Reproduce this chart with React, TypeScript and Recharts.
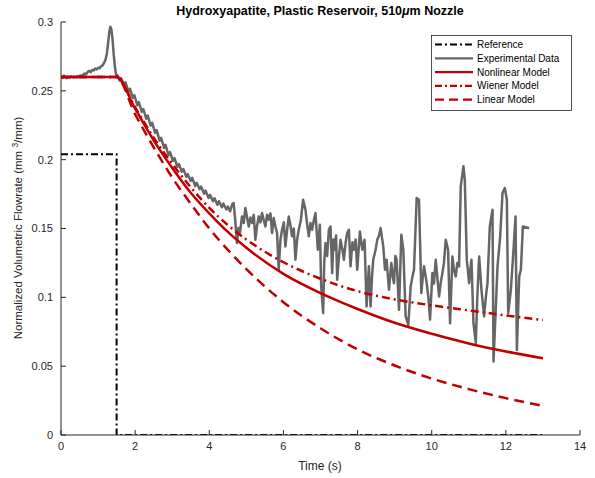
import React from "react";
import { LineChart, Line, XAxis, YAxis } from "recharts";

// axis ticks
const timeTicks = [0, 2, 4, 6, 8, 10, 12, 14];
const flowTicks = [0, 0.05, 0.1, 0.15, 0.2, 0.25, 0.3];

// [time (s), normalized flowrate]
const referenceFlow: [number, number][] = [
  [0, 0.204], [1.5, 0.204], [1.5, 0], [13, 0],
];

const nonlinearModel: [number, number][] = [
  [0, 0.26], [1.5, 0.26], [2, 0.237], [2.5, 0.214], [3, 0.194], [3.5, 0.176],
  [4, 0.161], [4.5, 0.1475], [5, 0.136], [6, 0.117], [7, 0.103], [8, 0.0915],
  [9, 0.0815], [10, 0.0735], [11, 0.0665], [12, 0.0607], [13, 0.0558],
];

const wienerModel: [number, number][] = [
  [0, 0.26], [1.5, 0.26], [2, 0.238], [2.5, 0.216], [3, 0.197], [3.5, 0.18],
  [4, 0.165], [4.5, 0.1525], [5, 0.142], [6, 0.1255], [7, 0.1135], [8, 0.1045],
  [9, 0.0985], [10, 0.0942], [11, 0.0905], [12, 0.0869], [13, 0.0835],
];

const linearModel: [number, number][] = [
  [0, 0.26], [1.5, 0.26], [2, 0.233], [2.5, 0.209], [3, 0.187], [3.5, 0.168],
  [4, 0.15], [4.5, 0.1345], [5, 0.1205], [6, 0.0965], [7, 0.0775], [8, 0.0622],
  [9, 0.0505], [10, 0.041], [11, 0.0333], [12, 0.0268], [13, 0.0212],
];

const experimentalData: [number, number][] = [
  [0, 0.2605], [0.04, 0.2595], [0.08, 0.261], [0.12, 0.26], [0.16, 0.2592], [0.2, 0.2602],
  [0.24, 0.2596], [0.28, 0.2606], [0.32, 0.2598], [0.36, 0.2604], [0.4, 0.2597], [0.44, 0.2607],
  [0.48, 0.2602], [0.52, 0.2612], [0.56, 0.2606], [0.6, 0.2618], [0.64, 0.2625], [0.68, 0.2622],
  [0.72, 0.2638], [0.76, 0.2645], [0.8, 0.2636], [0.84, 0.2652], [0.88, 0.2648], [0.92, 0.2662],
  [0.96, 0.2655], [1.0, 0.2668], [1.04, 0.2664], [1.08, 0.2678], [1.12, 0.2685], [1.16, 0.2702],
  [1.2, 0.2725], [1.24, 0.2775], [1.27, 0.2845], [1.3, 0.292], [1.33, 0.2965], [1.36, 0.2945],
  [1.39, 0.2875], [1.42, 0.277], [1.45, 0.2685], [1.48, 0.2625], [1.5, 0.2605],
  [1.52, 0.2615], [1.58, 0.2575], [1.62, 0.2592], [1.7, 0.2545], [1.74, 0.2562], [1.82, 0.2495],
  [1.86, 0.2515], [1.94, 0.2448], [1.98, 0.2468], [2.06, 0.2395], [2.1, 0.2418], [2.18, 0.2348],
  [2.22, 0.2368], [2.3, 0.2298], [2.34, 0.232], [2.42, 0.2248], [2.46, 0.2268], [2.54, 0.2195],
  [2.58, 0.2215], [2.66, 0.2138], [2.7, 0.2158], [2.78, 0.2085], [2.82, 0.2108], [2.9, 0.2032],
  [2.94, 0.2055], [3.02, 0.1992], [3.06, 0.2012], [3.14, 0.1948], [3.18, 0.1968], [3.26, 0.1912],
  [3.3, 0.1932], [3.38, 0.1875], [3.42, 0.1895], [3.5, 0.1845], [3.54, 0.1868], [3.62, 0.1808],
  [3.66, 0.1832], [3.74, 0.1785], [3.78, 0.1805], [3.86, 0.1752], [3.9, 0.1775], [3.98, 0.1722],
  [4.02, 0.1745], [4.1, 0.1698], [4.14, 0.172], [4.22, 0.1672], [4.26, 0.1698], [4.34, 0.1655],
  [4.38, 0.1682], [4.46, 0.1638], [4.5, 0.166], [4.56, 0.1625], [4.62, 0.1678], [4.657, 0.1685],
  [4.7, 0.156], [4.747, 0.1394], [4.79, 0.1505], [4.83, 0.147], [4.883, 0.1588], [4.93, 0.154],
  [4.973, 0.1649], [5.02, 0.158], [5.063, 0.1515], [5.11, 0.158], [5.153, 0.154], [5.2, 0.16],
  [5.243, 0.1418], [5.29, 0.152], [5.333, 0.1588], [5.38, 0.1545], [5.423, 0.1612], [5.47, 0.156],
  [5.513, 0.1515], [5.56, 0.16], [5.603, 0.1564], [5.65, 0.161], [5.693, 0.1467], [5.738, 0.1576],
  [5.78, 0.152], [5.828, 0.1467], [5.873, 0.12], [5.92, 0.142], [5.963, 0.1491], [6.01, 0.1545],
  [6.053, 0.137], [6.1, 0.149], [6.144, 0.1588], [6.19, 0.152], [6.234, 0.1443], [6.28, 0.15],
  [6.324, 0.1273], [6.37, 0.142], [6.414, 0.1491], [6.47, 0.156], [6.531, 0.1709], [6.594, 0.1637],
  [6.64, 0.153], [6.684, 0.1443], [6.73, 0.154], [6.774, 0.1491], [6.82, 0.156], [6.864, 0.1612],
  [6.928, 0.1346], [6.982, 0.1528], [7.018, 0.1079], [7.072, 0.0885], [7.1, 0.125], [7.135, 0.1394],
  [7.18, 0.13], [7.225, 0.1491], [7.27, 0.1515], [7.315, 0.1176], [7.35, 0.142], [7.378, 0.1346],
  [7.42, 0.145], [7.45, 0.1128], [7.5, 0.13], [7.54, 0.1418], [7.59, 0.135], [7.63, 0.1273],
  [7.68, 0.14], [7.72, 0.1467], [7.765, 0.1491], [7.81, 0.1225], [7.86, 0.14], [7.9, 0.1346],
  [7.95, 0.142], [7.99, 0.12], [8.03, 0.135], [8.063, 0.1479], [8.126, 0.1346], [8.189, 0.1418],
  [8.243, 0.0934], [8.306, 0.1225], [8.351, 0.0934], [8.39, 0.115], [8.423, 0.1273], [8.486, 0.1346],
  [8.531, 0.1418], [8.58, 0.145], [8.621, 0.1503], [8.693, 0.137], [8.74, 0.12], [8.783, 0.1273],
  [8.847, 0.1055], [8.91, 0.1249], [8.95, 0.115], [8.982, 0.1103], [9.02, 0.13], [9.054, 0.1273],
  [9.117, 0.0909], [9.18, 0.1455], [9.234, 0.1346], [9.297, 0.0861], [9.369, 0.08], [9.432, 0.1079],
  [9.48, 0.115], [9.522, 0.12], [9.594, 0.1721], [9.657, 0.1709], [9.72, 0.1031], [9.76, 0.115],
  [9.793, 0.1225], [9.865, 0.1103], [9.91, 0.1], [9.955, 0.0837], [10.018, 0.1176], [10.06, 0.11],
  [10.108, 0.1273], [10.15, 0.115], [10.198, 0.1006], [10.24, 0.11], [10.288, 0.1176], [10.33, 0.125],
  [10.378, 0.1418], [10.441, 0.1346], [10.495, 0.0812], [10.558, 0.1297], [10.6, 0.12], [10.648, 0.1152],
  [10.69, 0.125], [10.738, 0.1225], [10.783, 0.1806], [10.856, 0.1952], [10.892, 0.1855], [10.946, 0.1273],
  [11.009, 0.1103], [11.04, 0.12], [11.072, 0.1273], [11.126, 0.0812], [11.189, 0.0667], [11.23, 0.1],
  [11.279, 0.1297], [11.342, 0.1055], [11.38, 0.095], [11.414, 0.0861], [11.46, 0.1], [11.504, 0.1103],
  [11.567, 0.1515], [11.64, 0.1637], [11.667, 0.0534], [11.73, 0.0934], [11.775, 0.1225], [11.847, 0.1443],
  [11.91, 0.1758], [11.973, 0.1794], [12.027, 0.1709], [12.063, 0.0885], [12.135, 0.1055], [12.207, 0.1346],
  [12.261, 0.1588], [12.297, 0.0618], [12.36, 0.1152], [12.405, 0.12], [12.459, 0.1515], [12.63, 0.1503],
];

const legendItems = [
  { label: "Reference", color: "#000000", dash: "7 3 2 3" },
  { label: "Experimental Data", color: "#666666", dash: undefined },
  { label: "Nonlinear Model", color: "#c00000", dash: undefined },
  { label: "Wiener Model", color: "#c00000", dash: "7 3 2 3" },
  { label: "Linear Model", color: "#c00000", dash: "9 5" },
];

const toPoints = (pairs: [number, number][]) => pairs.map(([t, v]) => ({ t, v }));

const AXIS = "#262626";
const FONT = "'Liberation Sans', Arial, Helvetica, sans-serif";

export default function App() {
  return (
    <div style={{ position: "absolute", left: 0, top: 0, width: 595, height: 478, background: "#fff", fontFamily: FONT }}>
      <LineChart width={595} height={478} margin={{ top: 22, right: 15, left: 0, bottom: 0 }}>
        <XAxis
          xAxisId="bottom"
          type="number"
          dataKey="t"
          domain={[0, 14]}
          ticks={timeTicks}
          allowDataOverflow
          height={43}
          tickSize={-5}
          tickMargin={12}
          stroke={AXIS}
          tick={{ fontSize: 11, fill: AXIS, fontFamily: FONT }}
        />
        <XAxis
          xAxisId="top"
          orientation="top"
          type="number"
          dataKey="t"
          domain={[0, 14]}
          ticks={timeTicks}
          allowDataOverflow
          height={0}
          tickSize={-5}
          tick={false}
          stroke={AXIS}
        />
        <YAxis
          yAxisId="left"
          type="number"
          domain={[0, 0.3]}
          ticks={flowTicks}
          allowDataOverflow
          width={61}
          tickSize={-5}
          tickMargin={13}
          stroke={AXIS}
          tick={{ fontSize: 11, fill: AXIS, fontFamily: FONT }}
        />
        <YAxis
          yAxisId="right"
          orientation="right"
          type="number"
          domain={[0, 0.3]}
          ticks={flowTicks}
          allowDataOverflow
          width={0}
          tickSize={-5}
          tick={false}
          stroke={AXIS}
        />
        <Line
          data={toPoints(referenceFlow)}
          xAxisId="bottom"
          yAxisId="left"
          dataKey="v"
          type="linear"
          stroke="#000000"
          strokeWidth={2}
          strokeDasharray="7 3 2 3"
          dot={false}
          activeDot={false}
          isAnimationActive={false}
        />
        <Line
          data={toPoints(experimentalData)}
          xAxisId="bottom"
          yAxisId="left"
          dataKey="v"
          type="linear"
          stroke="#666666"
          strokeWidth={2.5}
          strokeLinejoin="round"
          dot={false}
          activeDot={false}
          isAnimationActive={false}
        />
        <Line
          data={toPoints(nonlinearModel)}
          xAxisId="bottom"
          yAxisId="left"
          dataKey="v"
          type="monotone"
          stroke="#c00000"
          strokeWidth={2.5}
          dot={false}
          activeDot={false}
          isAnimationActive={false}
        />
        <Line
          data={toPoints(wienerModel)}
          xAxisId="bottom"
          yAxisId="left"
          dataKey="v"
          type="monotone"
          stroke="#c00000"
          strokeWidth={2.5}
          strokeDasharray="8 4 2 4"
          dot={false}
          activeDot={false}
          isAnimationActive={false}
        />
        <Line
          data={toPoints(linearModel)}
          xAxisId="bottom"
          yAxisId="left"
          dataKey="v"
          type="monotone"
          stroke="#c00000"
          strokeWidth={2.5}
          strokeDasharray="10 6"
          dot={false}
          activeDot={false}
          isAnimationActive={false}
        />
      </LineChart>

      <svg width={595} height={478} style={{ position: "absolute", left: 0, top: 0, pointerEvents: "none" }}>
        <text x={320} y={15} textAnchor="middle" fontSize={12.5} fontWeight="bold" fill="#000" fontFamily={FONT}>
          Hydroxyapatite, Plastic Reservoir, 510
          <tspan fontStyle="italic">μ</tspan>m Nozzle
        </text>
        <text x={320} y={470} textAnchor="middle" fontSize={12} fill={AXIS} fontFamily={FONT}>
          Time (s)
        </text>
        <text transform="translate(22,228) rotate(-90)" textAnchor="middle" fontSize={11.5} fill={AXIS} fontFamily={FONT}>
          Normalized Volumetric Flowrate (mm <tspan dy={-4} fontSize={8.5}>3</tspan>
          <tspan dy={4}>/mm)</tspan>
        </text>

        <rect x={431.5} y={35.5} width={140} height={75} fill="#fff" stroke={AXIS} strokeWidth={0.8} />
        {legendItems.map((item, i) => {
          const y = 44.5 + i * 13.8;
          return (
            <g key={item.label}>
              <line x1={435} x2={473} y1={y} y2={y} stroke={item.color} strokeWidth={2.2} strokeDasharray={item.dash} />
              <text x={477} y={y} dominantBaseline="central" fontSize={10} fill="#000" fontFamily={FONT}>
                {item.label}
              </text>
            </g>
          );
        })}
      </svg>
    </div>
  );
}
